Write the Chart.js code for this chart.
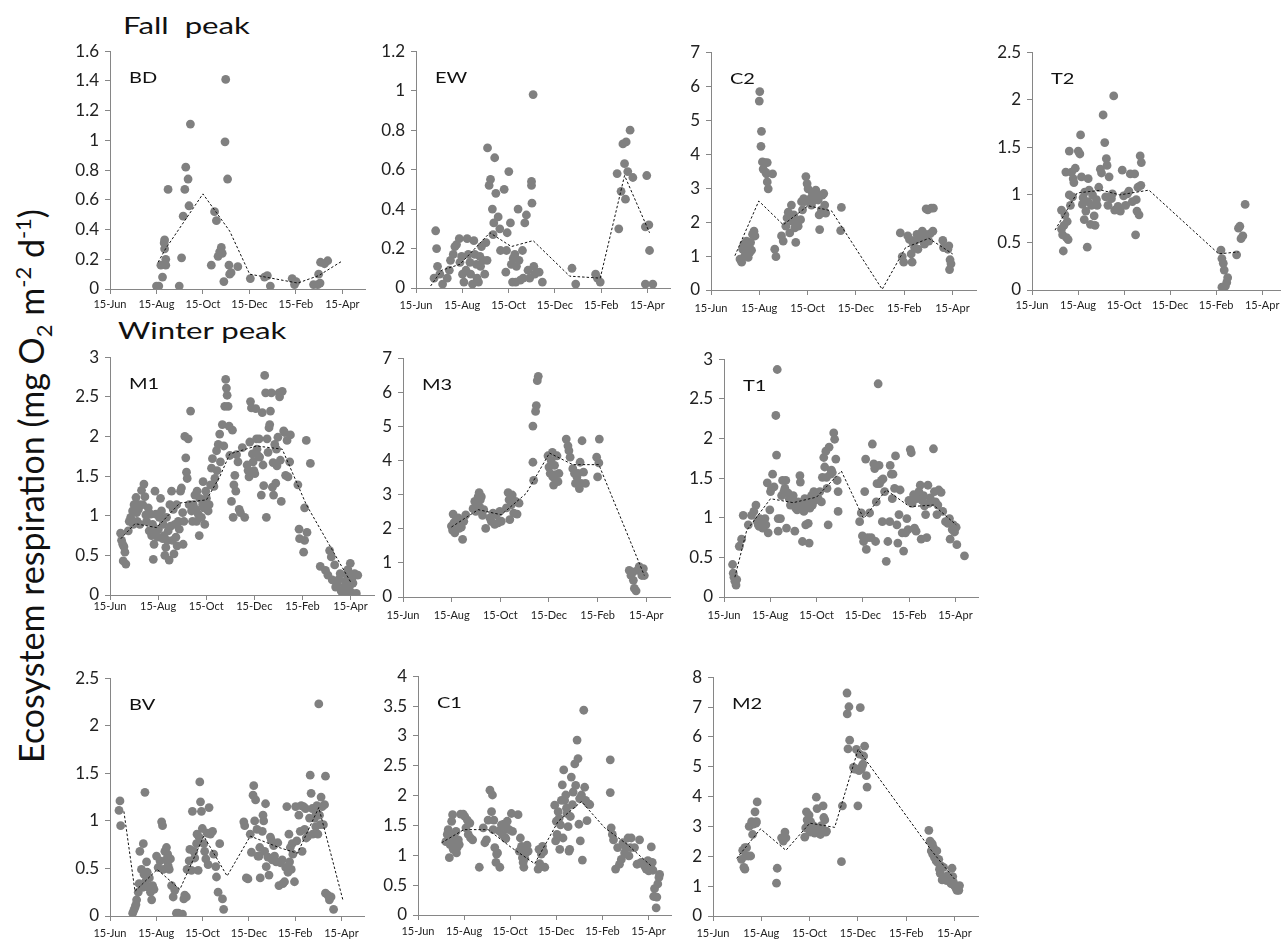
<!DOCTYPE html>
<html>
<head>
<meta charset="utf-8">
<script src="https://cdn.jsdelivr.net/npm/chart.js@4.4.1/dist/chart.umd.min.js"></script>
<style>
  html, body { margin: 0; padding: 0; background: #fff; overflow: hidden; }
  body { width: 1283px; height: 940px; position: relative; font-family: Lato, 'Open Sans', sans-serif; color: #111; }
  canvas { position: absolute; }
  .lbl { position: absolute; font-size: 16px; line-height: 20px; transform: scaleX(1.25); transform-origin: left center; }
  .group { position: absolute; font-size: 24px; line-height: 30px; white-space: pre; transform: scaleX(1.3); transform-origin: left center; }
  #ytitle { position: absolute; font-size: 34px; white-space: nowrap; transform-origin: center center; transform: translate(-50%, -50%) rotate(-90deg); left: 33px; top: 486px; }
  #ytitle sub, #ytitle sup { font-size: 22px; }
</style>
</head>
<body>
<div class="group" style="left:123px;top:10px;">Fall  peak</div>
<div class="group" style="left:118px;top:315px;">Winter peak</div>
<div id="ytitle">Ecosystem respiration (mg O<sub>2</sub> m<sup>-2</sup> d<sup>-1</sup>)</div>
<script>
// x values are months after 15-Jun
const xTickLabels = ['15-Jun', '15-Aug', '15-Oct', '15-Dec', '15-Feb', '15-Apr'];
const xTickValues = [0, 2, 4, 6, 8, 10];

// ---- Fall peak ----
const bdObs = [[2.0,0.02],[2.1,0.02],[2.19,0.16],[2.35,0.33],[2.33,0.31],[2.35,0.27],[2.4,0.20],[2.4,0.16],[2.26,0.08],[2.5,0.67],[3.08,0.21],[2.98,0.02],[3.15,0.49],[3.22,0.67],[3.26,0.82],[3.36,0.74],[3.4,0.56],[3.46,1.11],[4.36,0.16],[4.5,0.52],[4.58,0.46],[4.65,0.22],[4.72,0.25],[4.79,0.28],[4.83,0.24],[4.9,0.05],[4.98,1.41],[4.95,0.99],[5.06,0.74],[5.12,0.16],[5.15,0.10],[5.21,0.11],[5.5,0.15],[6.04,0.07],[6.65,0.08],[6.77,0.09],[6.9,0.02],[7.84,0.07],[7.94,0.03],[8.01,0.05],[8.76,0.03],[8.94,0.03],[9.04,0.04],[8.98,0.10],[9.06,0.18],[9.23,0.17],[9.37,0.19]];
const bdMean = [[2.07,0.18],[2.39,0.27],[4.0,0.64],[5.15,0.39],[6.01,0.10],[8.08,0.04],[8.98,0.09],[10.01,0.19]];

const ewObs = [[0.85,0.29],[0.89,0.20],[0.78,0.05],[0.93,0.11],[1.03,0.07],[1.15,0.02],[1.35,0.05],[1.44,0.09],[1.49,0.14],[1.61,0.17],[1.68,0.21],[1.75,0.22],[1.87,0.25],[1.9,0.13],[1.97,0.16],[2.01,0.07],[2.07,0.03],[2.16,0.09],[2.21,0.25],[2.26,0.17],[2.33,0.13],[2.36,0.07],[2.44,0.02],[2.5,0.24],[2.54,0.17],[2.61,0.12],[2.64,0.05],[2.7,0.03],[2.76,0.16],[2.79,0.11],[2.83,0.21],[2.9,0.14],[2.97,0.07],[3.02,0.23],[3.07,0.14],[3.09,0.71],[3.16,0.52],[3.22,0.55],[3.3,0.40],[3.33,0.27],[3.36,0.33],[3.4,0.66],[3.45,0.48],[3.55,0.36],[3.62,0.30],[3.65,0.19],[3.81,0.50],[3.88,0.08],[3.91,0.19],[3.94,0.28],[4.01,0.59],[4.08,0.33],[4.12,0.12],[4.17,0.03],[4.2,0.15],[4.27,0.17],[4.31,0.03],[4.34,0.11],[4.41,0.40],[4.45,0.14],[4.51,0.04],[4.6,0.19],[4.63,0.05],[4.7,0.33],[4.77,0.37],[4.84,0.09],[4.91,0.05],[4.99,0.52],[4.99,0.54],[5.01,0.43],[5.06,0.98],[5.09,0.11],[5.13,0.07],[5.32,0.08],[5.46,0.03],[6.74,0.10],[6.9,0.02],[7.76,0.07],[7.84,0.05],[7.96,0.03],[8.69,0.58],[8.76,0.30],[8.86,0.49],[8.94,0.73],[9.01,0.63],[9.05,0.45],[9.08,0.74],[9.15,0.59],[9.25,0.80],[9.37,0.56],[9.91,0.31],[9.97,0.57],[10.06,0.32],[10.09,0.19],[9.91,0.02],[10.23,0.02]];
const ewMean = [[0.63,0.01],[1.11,0.09],[1.9,0.12],[3.19,0.28],[4.12,0.21],[5.06,0.24],[6.64,0.06],[7.96,0.05],[9.01,0.57],[10.09,0.28]];

const c2Obs = [[1.2,0.91],[1.27,0.82],[1.31,1.2],[1.36,1.35],[1.4,1.01],[1.45,1.15],[1.47,1.44],[1.54,0.96],[1.58,1.25],[1.61,1.11],[1.64,1.4],[1.68,1.17],[1.72,1.64],[1.78,1.73],[1.82,1.59],[2.02,5.84],[2.0,5.56],[2.09,4.67],[2.07,4.23],[2.13,3.77],[2.16,3.56],[2.23,3.75],[2.3,3.42],[2.33,3.18],[2.27,3.46],[2.37,2.98],[2.33,3.75],[2.55,3.42],[2.64,1.2],[2.69,0.98],[2.92,1.59],[2.99,1.44],[3.1,1.88],[3.15,2.12],[3.2,2.29],[3.26,1.68],[3.33,2.5],[3.37,2.02],[3.43,2.21],[3.47,1.83],[3.51,1.4],[3.54,2.02],[3.61,1.88],[3.71,2.07],[3.75,2.6],[3.79,2.36],[3.84,2.69],[3.88,2.6],[3.93,3.34],[3.98,3.13],[4.02,2.98],[4.06,2.6],[4.12,2.69],[4.16,2.5],[4.2,2.84],[4.26,2.74],[4.3,2.65],[4.34,2.94],[4.39,2.84],[4.44,2.65],[4.48,2.21],[4.5,1.78],[4.57,2.36],[4.61,2.79],[4.67,2.84],[4.71,2.5],[4.75,2.26],[5.4,2.43],[5.37,1.75],[7.84,1.68],[7.92,0.98],[7.98,0.82],[8.15,1.59],[8.22,1.49],[8.29,1.06],[8.33,0.82],[8.36,1.4],[8.43,1.25],[8.47,1.46],[8.53,1.64],[8.57,1.2],[8.64,1.59],[8.71,1.49],[8.75,1.73],[8.8,1.56],[8.84,1.35],[8.88,1.64],[8.91,2.39],[8.98,2.36],[9.02,1.44],[9.08,1.66],[9.12,2.41],[9.21,2.41],[9.19,1.73],[9.6,1.46],[9.63,1.25],[9.81,1.2],[9.85,1.3],[9.9,0.89],[9.94,0.77],[9.88,0.6]];
const c2Mean = [[0.99,1.01],[1.98,2.62],[2.99,1.92],[4.02,2.48],[4.99,2.33],[7.09,0.02],[8.06,1.25],[9.02,1.52],[10.01,1.06]];

const t2Obs = [[1.28,0.64],[1.33,0.58],[1.28,0.84],[1.36,0.41],[1.39,0.68],[1.43,0.79],[1.47,1.24],[1.5,0.55],[1.53,0.72],[1.57,0.53],[1.62,1.0],[1.62,1.46],[1.67,0.89],[1.72,1.24],[1.76,0.98],[1.79,1.17],[1.82,1.13],[1.88,1.28],[2.01,1.46],[2.08,1.43],[2.11,1.63],[2.15,1.19],[2.19,0.9],[2.22,0.97],[2.27,0.74],[2.29,1.03],[2.34,0.83],[2.4,0.45],[2.44,1.17],[2.44,0.93],[2.48,1.05],[2.54,0.69],[2.58,0.89],[2.63,1.0],[2.7,0.78],[2.74,0.68],[2.8,0.95],[2.83,0.89],[2.9,1.08],[2.97,1.27],[3.02,1.23],[3.09,1.84],[3.16,1.55],[3.2,0.98],[3.23,1.38],[3.26,1.31],[3.3,0.89],[3.35,1.19],[3.45,0.96],[3.49,1.01],[3.55,2.04],[3.59,0.84],[3.74,0.88],[3.84,0.83],[3.92,1.26],[3.98,0.99],[4.07,0.89],[4.14,1.01],[4.21,1.04],[4.27,1.22],[4.36,0.93],[4.46,1.22],[4.5,0.58],[4.53,0.95],[4.56,0.83],[4.6,1.08],[4.65,0.79],[4.7,1.41],[4.75,1.34],[4.73,1.1],[8.21,0.42],[8.25,0.33],[8.31,0.28],[8.35,0.21],[8.25,0.03],[8.4,0.04],[8.5,0.13],[8.46,0.08],[8.89,0.37],[8.97,0.65],[9.03,0.67],[9.08,0.54],[9.16,0.57],[9.26,0.9]];
const t2Mean = [[1.0,0.63],[1.96,1.02],[3.02,1.05],[3.81,1.0],[5.08,1.05],[8.11,0.38],[8.97,0.4]];

// ---- Winter peak ----
const m1Obs = [[0.44,0.78],[0.48,0.69],[0.53,0.64],[0.58,0.61],[0.62,0.54],[0.55,0.43],[0.66,0.39],[0.76,0.81],[0.8,0.93],[0.86,0.98],[0.94,1.06],[0.97,0.89],[1.0,1.14],[1.08,1.23],[1.11,1.04],[1.13,0.93],[1.18,1.08],[1.22,1.14],[1.24,0.89],[1.31,1.32],[1.36,1.14],[1.41,1.4],[1.45,1.24],[1.49,1.01],[1.52,0.93],[1.59,1.1],[1.63,0.81],[1.69,1.02],[1.73,0.75],[1.77,0.89],[1.8,0.45],[1.83,0.64],[1.87,1.31],[1.91,1.02],[1.94,0.81],[1.98,0.73],[2.01,0.83],[2.05,0.98],[2.1,1.22],[2.14,1.06],[2.19,0.71],[2.21,0.89],[2.24,0.75],[2.28,0.5],[2.32,0.6],[2.35,0.98],[2.38,0.69],[2.42,0.81],[2.46,0.44],[2.49,1.14],[2.52,0.87],[2.56,1.31],[2.6,0.69],[2.63,1.08],[2.66,0.52],[2.7,0.89],[2.74,0.73],[2.77,1.14],[2.79,0.62],[2.84,0.93],[2.88,0.83],[2.93,1.31],[2.97,1.35],[3.02,1.04],[3.04,0.64],[3.07,0.93],[3.11,2.0],[3.15,1.73],[3.18,1.55],[3.21,1.47],[3.25,1.97],[3.29,1.14],[3.35,2.32],[3.39,1.06],[3.43,0.93],[3.46,1.14],[3.53,1.26],[3.57,1.08],[3.6,0.93],[3.62,1.31],[3.67,1.02],[3.71,0.75],[3.73,1.22],[3.8,0.98],[3.85,1.14],[3.87,1.43],[3.9,1.1],[3.94,0.89],[3.98,1.31],[4.01,1.22],[4.08,1.06],[4.12,1.14],[4.18,1.39],[4.22,1.6],[4.26,1.72],[4.32,1.37],[4.36,1.47],[4.43,1.82],[4.45,1.57],[4.5,1.9],[4.56,2.03],[4.59,1.68],[4.67,2.15],[4.73,1.88],[4.77,2.38],[4.81,2.72],[4.84,2.61],[4.87,2.52],[4.91,2.38],[4.95,2.13],[4.98,1.76],[5.05,1.18],[5.09,2.08],[5.12,0.98],[5.15,1.39],[5.19,1.51],[5.23,1.31],[5.26,1.77],[5.32,1.68],[5.37,1.08],[5.42,1.04],[5.5,1.86],[5.6,0.98],[5.7,1.64],[5.74,1.57],[5.78,1.49],[5.81,1.93],[5.84,2.44],[5.88,2.36],[5.92,1.78],[5.95,1.68],[5.98,1.57],[6.02,1.53],[6.06,2.35],[6.09,1.97],[6.11,1.84],[6.15,1.76],[6.2,1.97],[6.22,1.74],[6.29,1.26],[6.33,2.3],[6.36,1.64],[6.39,1.38],[6.43,2.77],[6.47,2.55],[6.5,0.98],[6.53,1.97],[6.57,1.8],[6.61,2.11],[6.64,2.15],[6.67,2.32],[6.71,2.55],[6.75,1.36],[6.78,1.67],[6.8,1.26],[6.85,1.9],[6.89,1.41],[6.92,1.84],[6.94,1.63],[6.98,1.99],[7.03,2.55],[7.05,2.5],[7.08,1.7],[7.12,1.18],[7.16,2.57],[7.22,2.07],[7.26,2.05],[7.3,1.51],[7.36,1.95],[7.4,1.49],[7.47,1.68],[7.5,2.02],[7.81,1.39],[7.86,0.83],[7.88,0.71],[8.05,0.54],[8.09,1.1],[8.09,0.69],[8.16,1.95],[8.19,0.79],[8.33,1.66],[8.74,0.36],[8.96,0.31],[9.06,0.25],[9.13,0.56],[9.2,0.48],[9.24,0.19],[9.34,0.38],[9.38,0.1],[9.43,0.13],[9.52,0.2],[9.57,0.27],[9.61,0.05],[9.68,0.02],[9.75,0.11],[9.79,0.17],[9.82,0.05],[9.85,0.25],[9.89,0.32],[9.93,0.19],[9.96,0.11],[9.99,0.4],[10.03,0.03],[10.07,0.22],[10.1,0.15],[10.17,0.27],[10.24,0.02],[10.3,0.25]];
const m1Mean = [[0.45,0.71],[1.04,0.9],[1.94,0.85],[2.9,1.16],[4.01,1.2],[4.56,1.49],[4.98,1.78],[6.09,1.88],[7.16,1.84],[8.16,1.14],[10.03,0.15]];

const m3Obs = [[1.99,2.08],[2.04,1.95],[2.06,2.43],[2.09,2.17],[2.13,1.88],[2.17,2.24],[2.2,2.03],[2.23,2.13],[2.27,2.32],[2.31,2.01],[2.34,2.17],[2.4,2.05],[2.45,1.69],[2.5,2.22],[2.58,2.41],[2.88,2.59],[2.95,2.8],[2.99,2.51],[3.05,2.7],[3.09,2.94],[3.13,3.06],[3.16,2.63],[3.18,2.85],[3.22,2.94],[3.27,2.39],[3.32,2.56],[3.4,2.01],[3.57,2.32],[3.63,2.22],[3.7,2.46],[3.77,2.13],[3.84,2.41],[3.91,2.17],[3.98,2.51],[4.04,2.22],[4.25,2.61],[4.32,3.06],[4.36,2.85],[4.39,2.27],[4.45,2.7],[4.49,2.99],[4.55,2.46],[4.63,2.8],[4.69,2.43],[4.77,2.75],[5.34,3.95],[5.34,5.01],[5.37,3.42],[5.45,5.44],[5.48,5.61],[5.52,6.34],[5.56,6.47],[5.96,4.14],[6.0,3.81],[6.05,3.62],[6.09,4.0],[6.14,4.24],[6.16,3.52],[6.19,3.28],[6.23,3.86],[6.27,3.59],[6.33,4.14],[6.37,3.38],[6.41,3.62],[6.71,4.63],[6.78,4.43],[6.82,4.29],[6.87,4.1],[6.98,3.76],[7.05,3.62],[7.09,3.33],[7.15,3.52],[7.19,3.62],[7.25,3.18],[7.28,3.95],[7.32,3.33],[7.36,4.58],[7.42,3.66],[7.5,3.33],[7.96,4.1],[8.0,3.52],[8.05,3.93],[8.07,4.63],[9.3,0.78],[9.37,0.63],[9.44,0.73],[9.47,0.49],[9.51,0.25],[9.58,0.18],[9.64,0.78],[9.71,0.89],[9.82,0.63],[9.92,0.63],[9.88,0.83]];
const m3Mean = [[1.99,2.05],[3.09,2.56],[4.04,2.41],[5.07,3.04],[6.02,4.22],[6.98,3.88],[8.05,3.88],[9.92,0.63]];

const t1Obs = [[0.37,0.41],[0.4,0.3],[0.43,0.25],[0.47,0.2],[0.52,0.15],[0.55,0.22],[0.66,0.64],[0.76,0.73],[0.83,1.03],[1.05,0.91],[1.19,1.03],[1.29,1.08],[1.38,1.16],[1.44,0.95],[1.48,0.91],[1.52,0.89],[1.55,0.99],[1.62,0.95],[1.67,0.87],[1.72,0.93],[1.77,0.99],[1.81,0.91],[1.87,1.44],[1.91,0.81],[1.98,1.1],[2.01,1.33],[2.05,1.37],[2.1,1.55],[2.16,1.39],[2.24,2.29],[2.27,1.79],[2.3,2.87],[2.34,0.99],[2.34,0.83],[2.44,0.99],[2.49,1.28],[2.53,1.47],[2.59,1.33],[2.63,1.37],[2.67,1.47],[2.7,0.87],[2.77,1.31],[2.82,1.24],[2.87,1.16],[2.92,1.22],[2.99,1.28],[3.06,0.83],[3.1,1.12],[3.16,1.1],[3.2,1.2],[3.28,1.53],[3.3,1.45],[3.35,1.16],[3.39,0.7],[3.45,1.08],[3.49,1.24],[3.53,0.91],[3.56,1.16],[3.64,0.93],[3.68,0.68],[3.71,1.12],[3.74,1.24],[3.78,1.28],[3.82,1.16],[3.88,1.33],[3.92,1.22],[4.0,1.28],[4.07,1.24],[4.14,1.33],[4.21,1.2],[4.25,1.51],[4.31,1.76],[4.35,1.64],[4.4,1.84],[4.43,1.51],[4.45,1.37],[4.5,0.91],[4.54,1.89],[4.6,1.55],[4.64,1.6],[4.68,1.57],[4.74,2.07],[4.78,1.99],[4.83,1.74],[4.89,1.47],[4.93,1.33],[4.93,1.08],[5.86,0.95],[5.93,1.06],[5.98,0.77],[6.03,0.7],[6.08,1.33],[6.12,1.74],[6.15,0.6],[6.22,0.75],[6.29,1.06],[6.36,0.75],[6.41,1.93],[6.47,1.68],[6.51,1.62],[6.55,0.7],[6.58,1.2],[6.61,1.43],[6.66,2.69],[6.7,1.66],[6.72,1.43],[6.8,1.47],[6.84,0.95],[6.87,1.49],[6.94,1.33],[7.01,0.45],[7.08,0.7],[7.16,0.95],[7.18,1.66],[7.23,1.55],[7.27,1.24],[7.3,1.55],[7.37,1.37],[7.41,1.78],[7.47,0.91],[7.51,0.68],[7.56,1.04],[7.61,1.35],[7.7,0.81],[7.76,0.58],[7.84,0.81],[7.9,0.99],[7.95,0.85],[7.99,1.22],[8.05,1.86],[8.09,1.82],[8.13,1.18],[8.19,1.29],[8.23,0.87],[8.3,0.83],[8.33,1.24],[8.42,1.33],[8.48,1.41],[8.52,0.73],[8.56,1.22],[8.62,1.28],[8.66,1.15],[8.71,1.04],[8.76,0.75],[8.81,1.41],[8.85,1.18],[8.91,1.25],[9.05,1.87],[9.09,1.33],[9.14,1.2],[9.2,1.04],[9.24,1.16],[9.28,1.35],[9.38,1.32],[9.45,1.08],[9.57,0.95],[9.67,0.93],[9.74,0.99],[9.77,0.73],[9.86,0.85],[9.91,0.91],[9.96,0.82],[10.03,0.88],[10.06,0.66],[10.39,0.52]];
const t1Mean = [[0.47,0.25],[0.98,0.84],[2.01,1.24],[2.99,1.19],[4.0,1.26],[5.07,1.59],[6.03,0.99],[7.01,1.35],[8.02,1.14],[9.05,1.16],[10.03,0.91]];

const bvObs = [[0.43,1.21],[0.39,1.11],[0.46,0.95],[0.98,0.03],[1.03,0.06],[1.08,0.09],[1.12,0.12],[1.15,0.17],[1.22,0.25],[1.26,0.34],[1.29,0.68],[1.36,0.49],[1.41,0.3],[1.44,0.76],[1.47,0.44],[1.51,1.3],[1.55,0.37],[1.58,0.57],[1.61,0.46],[1.65,0.3],[1.7,0.4],[1.75,0.25],[1.8,0.17],[1.84,0.32],[1.9,0.28],[2.01,0.63],[2.08,0.51],[2.16,0.58],[2.23,0.99],[2.27,0.95],[2.3,0.49],[2.37,0.68],[2.41,0.59],[2.44,0.72],[2.49,0.65],[2.51,0.53],[2.56,0.49],[2.61,0.6],[2.66,0.32],[2.73,0.2],[2.8,0.27],[2.87,0.03],[2.95,0.03],[3.02,0.02],[3.13,0.02],[3.19,0.18],[3.23,0.22],[3.3,0.2],[3.33,0.49],[3.42,0.58],[3.45,0.7],[3.52,0.48],[3.56,1.1],[3.62,0.68],[3.66,0.61],[3.74,0.76],[3.76,0.86],[3.81,0.48],[3.85,0.83],[3.88,1.41],[3.91,1.2],[3.95,1.1],[3.99,0.92],[4.05,0.76],[4.09,0.68],[4.14,0.6],[4.2,0.87],[4.24,0.54],[4.28,1.14],[4.34,0.86],[4.43,0.89],[4.48,0.65],[4.57,0.52],[4.6,0.41],[4.67,0.25],[4.74,0.76],[4.86,0.18],[4.91,0.07],[5.78,0.99],[5.82,0.95],[5.89,0.4],[5.96,0.39],[6.06,0.86],[6.11,0.67],[6.18,1.27],[6.21,1.37],[6.25,1.0],[6.29,1.22],[6.35,0.91],[6.39,0.63],[6.44,0.63],[6.47,0.72],[6.49,0.4],[6.58,0.89],[6.61,1.06],[6.64,1.0],[6.68,0.68],[6.72,1.18],[6.75,0.52],[6.82,0.62],[6.87,0.43],[6.93,0.83],[6.97,0.8],[7.01,0.59],[7.07,0.74],[7.11,0.63],[7.18,0.57],[7.25,0.77],[7.3,0.32],[7.36,0.56],[7.44,0.59],[7.47,0.34],[7.54,0.36],[7.59,0.51],[7.64,1.15],[7.69,0.46],[7.73,0.86],[7.76,0.57],[7.79,0.72],[7.83,0.49],[7.87,0.76],[7.9,0.65],[7.97,0.36],[8.02,1.15],[8.07,0.79],[8.16,1.06],[8.22,0.89],[8.26,1.16],[8.3,0.68],[8.36,1.15],[8.41,0.91],[8.45,1.13],[8.48,0.82],[8.55,0.84],[8.62,1.03],[8.65,1.48],[8.69,1.29],[8.74,1.13],[8.76,0.86],[8.84,1.03],[8.89,0.94],[8.91,1.08],[8.94,1.16],[8.98,0.86],[9.02,2.23],[9.05,1.06],[9.08,0.96],[9.12,1.25],[9.17,1.15],[9.22,0.96],[9.27,1.17],[9.31,1.47],[9.31,0.24],[9.41,0.22],[9.48,0.17],[9.55,0.2],[9.66,0.07]];
const bvMean = [[0.6,1.1],[1.08,0.26],[2.04,0.49],[3.02,0.28],[4.05,0.84],[5.06,0.42],[6.06,0.84],[7.3,0.72],[8.1,0.66],[9.02,1.14],[10.06,0.17]];

const c1Obs = [[1.21,1.23],[1.27,1.35],[1.31,1.43],[1.36,0.96],[1.39,1.18],[1.41,1.26],[1.46,1.57],[1.5,1.68],[1.53,1.1],[1.57,1.35],[1.6,1.24],[1.65,1.4],[1.67,1.04],[1.7,1.13],[1.75,1.26],[1.79,1.18],[1.85,1.69],[1.96,1.69],[2.03,1.65],[2.08,1.46],[2.14,1.59],[2.18,1.35],[2.25,1.54],[2.28,1.29],[2.37,1.26],[2.66,0.8],[2.83,1.46],[2.9,1.21],[2.97,1.26],[3.04,1.59],[3.12,2.09],[3.19,1.73],[3.23,2.01],[3.26,1.43],[3.29,1.59],[3.33,1.13],[3.38,0.88],[3.41,1.02],[3.45,1.04],[3.52,1.41],[3.55,0.8],[3.62,1.51],[3.66,1.35],[3.72,1.52],[3.77,1.3],[3.81,1.28],[3.84,1.46],[3.87,1.57],[3.95,1.43],[4.05,1.7],[4.1,1.4],[4.34,1.68],[4.39,1.07],[4.44,1.29],[4.49,1.15],[4.53,0.96],[4.56,0.88],[4.59,0.8],[4.63,0.95],[4.68,1.04],[4.73,1.17],[4.78,1.07],[5.21,0.77],[5.25,1.1],[5.28,0.86],[5.35,1.02],[5.4,1.15],[5.45,1.06],[5.5,0.8],[5.93,1.84],[5.97,1.24],[6.0,1.57],[6.03,1.35],[6.08,1.73],[6.12,1.62],[6.15,1.1],[6.18,1.51],[6.22,1.92],[6.26,2.18],[6.29,1.29],[6.32,2.43],[6.36,1.92],[6.41,2.01],[6.44,1.79],[6.46,1.7],[6.51,1.48],[6.55,1.07],[6.58,1.1],[6.61,1.65],[6.65,2.31],[6.7,1.85],[6.73,2.06],[6.8,2.53],[6.84,2.17],[6.9,2.93],[6.94,2.62],[6.98,1.52],[7.01,1.95],[7.04,1.24],[7.09,2.01],[7.13,0.92],[7.19,3.43],[7.23,2.14],[7.27,1.92],[7.33,1.58],[7.37,1.87],[7.45,1.85],[8.34,2.6],[8.34,2.05],[8.38,1.46],[8.43,1.35],[8.48,1.26],[8.57,0.77],[8.66,1.13],[8.74,0.85],[8.82,0.93],[8.89,1.21],[8.96,1.04],[9.03,1.13],[9.11,1.29],[9.15,0.99],[9.21,1.13],[9.25,1.29],[9.39,1.13],[9.5,0.85],[9.61,1.26],[9.68,0.88],[9.78,0.85],[9.83,0.82],[9.9,0.77],[9.97,0.91],[10.01,0.74],[10.07,0.8],[10.12,1.14],[10.16,0.88],[10.19,0.75],[10.22,0.31],[10.26,0.44],[10.33,0.12],[10.36,0.3],[10.4,0.52],[10.45,0.63],[10.48,0.68]];
const c1Mean = [[1.02,1.21],[1.99,1.43],[3.04,1.43],[4.05,1.13],[5.06,0.86],[6.08,1.57],[7.09,1.9],[8.1,1.46],[9.05,1.19],[10.12,0.82]];

const m2Obs = [[1.18,1.9],[1.23,2.2],[1.28,1.63],[1.32,2.29],[1.32,1.57],[1.36,2.01],[1.39,2.29],[1.46,2.01],[1.5,3.0],[1.56,2.01],[1.6,3.16],[1.64,2.73],[1.67,3.08],[1.74,3.49],[1.78,3.11],[1.83,3.82],[1.8,3.16],[2.63,1.1],[2.66,1.6],[2.84,2.62],[2.91,2.51],[2.98,2.81],[3.02,2.62],[3.8,2.64],[3.84,2.95],[3.87,3.49],[3.9,3.22],[3.94,3.08],[3.98,3.38],[4.01,2.81],[4.04,3.16],[4.08,2.95],[4.15,3.03],[4.21,2.78],[4.28,3.98],[4.31,3.6],[4.35,2.95],[4.39,2.78],[4.45,2.73],[4.49,3.03],[4.56,3.69],[4.59,3.3],[4.63,3.22],[4.67,2.81],[4.7,2.84],[5.32,1.82],[5.36,3.69],[5.55,7.47],[5.56,6.77],[5.63,7.01],[5.59,5.6],[5.66,5.89],[5.82,4.98],[5.87,4.92],[5.94,5.58],[5.96,4.92],[6.0,3.69],[6.05,4.87],[6.07,5.42],[6.1,6.98],[6.14,4.92],[6.18,5.03],[6.21,5.09],[6.24,5.36],[6.28,5.69],[6.35,4.7],[6.38,4.32],[8.94,2.87],[8.99,2.51],[9.04,2.18],[9.08,2.42],[9.1,2.07],[9.13,2.29],[9.17,1.96],[9.21,2.18],[9.24,1.85],[9.27,2.18],[9.31,1.79],[9.35,1.9],[9.38,1.57],[9.41,1.43],[9.45,1.68],[9.49,1.21],[9.55,1.63],[9.59,1.3],[9.66,1.19],[9.72,1.35],[9.77,1.3],[9.82,1.24],[9.86,1.08],[9.9,1.6],[9.93,1.32],[9.96,1.13],[10.0,1.02],[10.04,0.97],[10.1,0.86],[10.18,0.86],[10.21,1.02]];
const m2Mean = [[0.98,1.93],[1.97,2.92],[3.02,2.2],[4.01,3.11],[5.04,2.97],[6.01,5.58],[9.04,2.2],[10.0,1.24]];

// panel placement: plot-area left/top/bottom in page px, px per month, x label gap
const panels = [
  { name: 'BD', obs: bdObs, mean: bdMean, yMax: 1.6, yStep: 0.2, L: 110, T: 47, B: 289, ppm: 23.3, xMax: 11, xPad: 4 },
  { name: 'EW', obs: ewObs, mean: ewMean, yMax: 1.2, yStep: 0.2, L: 416, T: 47, B: 288, ppm: 23.2, xMax: 11, xPad: 6 },
  { name: 'C2', obs: c2Obs, mean: c2Mean, yMax: 7, yStep: 1, L: 711, T: 48, B: 290, ppm: 24.2, xMax: 11, xPad: 7 },
  { name: 'T2', obs: t2Obs, mean: t2Mean, yMax: 2.5, yStep: 0.5, L: 1032, T: 48, B: 290, ppm: 23.1, xMax: 10.8, xPad: 4 },
  { name: 'M1', obs: m1Obs, mean: m1Mean, yMax: 3, yStep: 0.5, L: 110, T: 353, B: 595, ppm: 24.1, xMax: 11, xPad: 0 },
  { name: 'M3', obs: m3Obs, mean: m3Mean, yMax: 7, yStep: 1, L: 403, T: 354, B: 597, ppm: 24.4, xMax: 11, xPad: 7 },
  { name: 'T1', obs: t1Obs, mean: t1Mean, yMax: 3, yStep: 0.5, L: 724, T: 355, B: 597, ppm: 23.2, xMax: 11, xPad: 7 },
  { name: 'BV', obs: bvObs, mean: bvMean, yMax: 2.5, yStep: 0.5, L: 110, T: 674, B: 916, ppm: 23.2, xMax: 11, xPad: 6 },
  { name: 'C1', obs: c1Obs, mean: c1Mean, yMax: 4, yStep: 0.5, L: 418, T: 672, B: 915, ppm: 23.1, xMax: 11, xPad: 5 },
  { name: 'M2', obs: m2Obs, mean: m2Mean, yMax: 8, yStep: 1, L: 713, T: 673, B: 916, ppm: 24.2, xMax: 11, xPad: 6 }
];

const AXIS = '#868686';
const YW = 48, PADT = 12, XH = 28, PADR = 4;

panels.forEach(function (p) {
  const plotW = Math.round(p.ppm * p.xMax);
  const cv = document.createElement('canvas');
  cv.width = YW + plotW + PADR;
  cv.height = PADT + (p.B - p.T) + XH;
  cv.style.left = (p.L - YW) + 'px';
  cv.style.top = (p.T - PADT) + 'px';
  document.body.appendChild(cv);

  // panel name inside the plot
  const lab = document.createElement('div');
  lab.className = 'lbl';
  lab.textContent = p.name;
  lab.style.left = (p.L + 19) + 'px';
  lab.style.top = (p.T + 20) + 'px';
  document.body.appendChild(lab);

  new Chart(cv.getContext('2d'), {
    type: 'scatter',
    data: {
      datasets: [
        {
          data: p.mean.map(d => ({ x: d[0], y: d[1] })),
          showLine: true,
          borderColor: '#111',
          borderWidth: 1,
          borderDash: [2.5, 2],
          pointRadius: 0,
          order: 0
        },
        {
          data: p.obs.map(d => ({ x: d[0], y: d[1] })),
          backgroundColor: '#808080',
          borderWidth: 0,
          pointRadius: 4.4,
          order: 1
        }
      ]
    },
    options: {
      responsive: false,
      animation: false,
      devicePixelRatio: 1,
      layout: { padding: { top: PADT, right: PADR, left: 0, bottom: 0 } },
      plugins: { legend: { display: false }, tooltip: { enabled: false } },
      scales: {
        x: {
          type: 'linear', min: 0, max: p.xMax,
          afterBuildTicks: s => { s.ticks = xTickValues.map(v => ({ value: v })); },
          afterFit: s => { s.height = XH; },
          grid: { drawOnChartArea: false, drawTicks: true, tickLength: 5, color: AXIS },
          border: { color: AXIS },
          ticks: {
            maxRotation: 0, autoSkip: false, padding: p.xPad, color: '#222',
            font: { family: 'Lato', size: 11 },
            callback: v => xTickLabels[xTickValues.indexOf(v)]
          }
        },
        y: {
          min: 0, max: p.yMax,
          afterFit: s => { s.width = YW; },
          grid: { drawOnChartArea: false, drawTicks: true, tickLength: 5, color: AXIS },
          border: { color: AXIS },
          ticks: {
            stepSize: p.yStep, padding: 6, color: '#222',
            font: { family: 'Lato', size: 17 },
            callback: v => String(Number(v.toFixed(2)))
          }
        }
      }
    }
  });
});
</script>
</body>
</html>
